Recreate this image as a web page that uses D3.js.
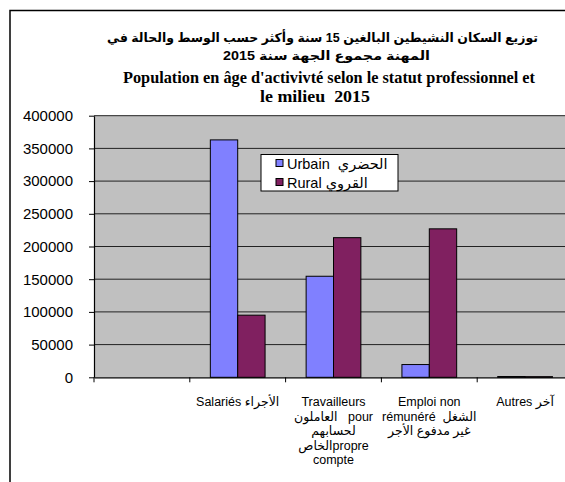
<!DOCTYPE html>
<html><head><meta charset="utf-8">
<script src="https://cdn.jsdelivr.net/npm/d3@7"></script>
<style>body{margin:0;background:#fff}svg{display:block}text{white-space:pre}</style>
</head><body>
<svg id="c" width="565" height="482"></svg>
<script>
const categories = ["", "Salariés", "Travailleurs", "Emploi", "Autres"];
const categoryLabels = [
  [],
  ["Salariés الأجراء"],
  ["Travailleurs", "العاملون   pour", "لحسابهم", "الخاصpropre", "compte"],
  ["Emploi non", "rémunéré  الشغل", "غير مدفوع الأجر"],
  ["Autres آخر"]
];
const seriesNames = ["Urbain  الحضري", "Rural القروي"];
const urbain = [null, 363000, 154500, 19500, 1200];
const rural  = [null, 95000, 213500, 227000, 1000];
const yTicks = [0, 50000, 100000, 150000, 200000, 250000, 300000, 350000, 400000];
const titleAr = ["توزيع السكان النشيطين البالغين 15 سنة وأكثر حسب الوسط والحالة في", "المهنة مجموع الجهة سنة 2015"];
const titleFr = ["Population en âge d'activivté selon le statut professionnel et", "le milieu  2015"];
const colors = ["#8080FF", "#802060"];

const svg = d3.select("#c");
const sans = "Arial, 'Liberation Sans', 'DejaVu Sans', sans-serif";
const L = 94, R = 573, T = 115.7, B = 377.3;

// outer frame
svg.append("rect").attr("x", 10).attr("y", 10.5).attr("width", 600).attr("height", 600)
  .attr("fill", "#fff").attr("stroke", "#000").attr("stroke-width", 1.5);

const x = d3.scaleBand().domain(categories).range([L, R]).paddingInner(0).paddingOuter(0);
const y = d3.scaleLinear().domain([0, 400000]).range([B, T]);
const bw = x.bandwidth() / 3.5;
const xs = d3.scaleBand().domain([0, 1]).range([0.75 * bw, 2.75 * bw]);

svg.append("rect").attr("x", L).attr("y", T).attr("width", R - L).attr("height", B - T).attr("fill", "#C0C0C0");

// gridlines
svg.append("g").selectAll("line").data(yTicks.slice(1)).join("line")
  .attr("x1", L).attr("x2", R).attr("y1", d => y(d)).attr("y2", d => y(d))
  .attr("stroke", "#222").attr("stroke-width", 1);

// bars
const series = [urbain, rural];
series.forEach((vals, si) => {
  svg.append("g").selectAll("rect").data(categories.map((c, i) => ({c, v: vals[i]})).filter(d => d.v != null))
    .join("rect")
    .attr("x", d => x(d.c) + xs(si))
    .attr("width", xs.bandwidth())
    .attr("y", d => y(d.v))
    .attr("height", d => B - y(d.v))
    .attr("fill", colors[si]).attr("stroke", "#000").attr("stroke-width", 1);
});

// y axis
const ya = svg.append("g").attr("transform", `translate(${L},0)`)
  .call(d3.axisLeft(y).tickValues(yTicks).tickFormat(d3.format("d")).tickSize(5).tickSizeOuter(0).tickPadding(16));
ya.select(".domain").attr("stroke", "#000").attr("stroke-width", 1.2);
ya.selectAll(".tick line").attr("stroke", "#000");
ya.selectAll("text").attr("font-family", sans).attr("font-size", 15).attr("fill", "#000");

// x axis
const xa = svg.append("g").attr("transform", `translate(0,${B})`)
  .call(d3.axisBottom(x).tickValues([]).tickSizeOuter(0));
xa.select(".domain").attr("stroke", "#000").attr("stroke-width", 1.2);
const bounds = categories.map(c => x(c));
svg.append("g").selectAll("line").data(bounds).join("line")
  .attr("x1", d => d).attr("x2", d => d).attr("y1", B).attr("y2", B + 5).attr("stroke", "#000");

// x labels
const lg = svg.append("g");
categories.forEach((c, i) => {
  const t = lg.append("text").attr("font-family", sans).attr("font-size", 12.5).attr("fill", "#000")
    .attr("text-anchor", "middle");
  categoryLabels[i].forEach((line, j) => {
    t.append("tspan").attr("x", x(c) + x.bandwidth() / 2).attr("y", 406 + j * 14.5).text(line);
  });
});

// titles
const arLens = [431, 207];
titleAr.forEach((s, i) => {
  svg.append("text").attr("x", i === 0 ? 322.5 : 326.5).attr("y", 42 + i * 18).attr("text-anchor", "middle")
    .attr("direction", "rtl").attr("font-family", sans).attr("font-weight", "bold").attr("font-size", 12.5)
    .attr("textLength", arLens[i]).attr("lengthAdjust", "spacingAndGlyphs")
    .attr("fill", "#000").text(s);
});
const frLens = [412, 110];
titleFr.forEach((s, i) => {
  svg.append("text").attr("x", i === 0 ? 329 : 315).attr("y", 83 + i * 19).attr("text-anchor", "middle")
    .attr("font-family", "'Times New Roman', 'Liberation Serif', serif").attr("font-weight", "bold").attr("font-size", 17)
    .attr("textLength", frLens[i]).attr("lengthAdjust", "spacingAndGlyphs")
    .attr("fill", "#000").text(s);
});

// legend
const leg = svg.append("g");
leg.append("rect").attr("x", 261).attr("y", 154.5).attr("width", 137).attr("height", 36.5)
  .attr("fill", "#fff").attr("stroke", "#000").attr("stroke-width", 1);
seriesNames.forEach((n, i) => {
  leg.append("rect").attr("x", 276).attr("y", 159.5 + i * 19).attr("width", 7).attr("height", 7)
    .attr("fill", colors[i]).attr("stroke", "#000").attr("stroke-width", 1);
  leg.append("text").attr("x", 287).attr("y", 168.5 + i * 19).attr("font-family", sans).attr("font-size", 14.5)
    .attr("fill", "#000").text(n);
});
</script>
</body></html>
